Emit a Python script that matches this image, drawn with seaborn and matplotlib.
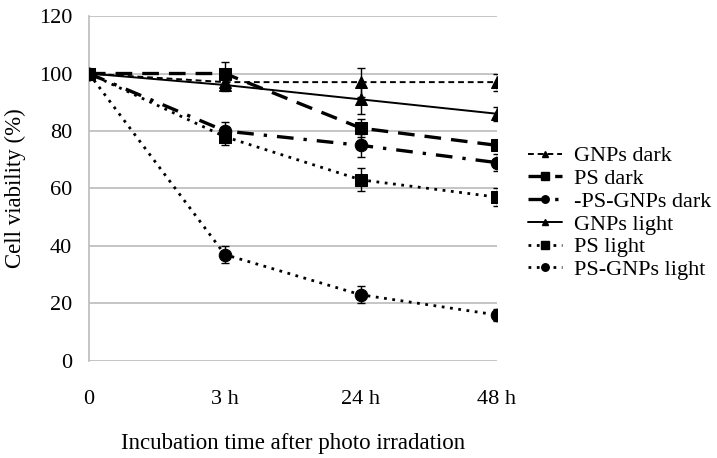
import matplotlib
matplotlib.use("Agg")
import matplotlib.pyplot as plt
import seaborn as sns
import pandas as pd
from matplotlib.lines import Line2D

sns.set_style("white")
plt.rcParams['font.family'] = ['Liberation Serif', 'DejaVu Serif']
plt.rcParams['text.color'] = 'black'
plt.rcParams['axes.labelcolor'] = 'black'
plt.rcParams['xtick.color'] = 'black'
plt.rcParams['ytick.color'] = 'black'

times = ["0", "3 h", "24 h", "48 h"]
series_names = ["GNPs dark", "PS dark", "-PS-GNPs dark", "GNPs light", "PS light", "PS-GNPs light"]
gnps_dark = [100, 97, 97, 97]
ps_dark = [100, 100, 81, 75]
psgnps_dark = [100, 80, 75, 69]
gnps_light = [100, 96, 91, 86]
ps_light = [100, 78, 63, 57]
psgnps_light = [100, 37, 23, 16]
values = [gnps_dark, ps_dark, psgnps_dark, gnps_light, ps_light, psgnps_light]

err_gnps_dark = [0, 1, 5, 3]
err_ps_dark = [0, 4, 3, 1]
err_psgnps_dark = [0, 3, 4, 3]
err_gnps_light = [0, 2, 5, 2.5]
err_ps_light = [0, 3, 4, 3]
err_psgnps_light = [0, 3, 3, 2]
errors = [err_gnps_dark, err_ps_dark, err_psgnps_dark, err_gnps_light, err_ps_light, err_psgnps_light]

styles = [
    dict(marker="^", ms=8, lw=1.4, dashes=(3, 2)),
    dict(marker="s", ms=9, lw=2.4, dashes=(5, 3)),
    dict(marker="o", ms=9, lw=2.4, dashes=(5, 3, 1, 3)),
    dict(marker="^", ms=8, lw=1.4, dashes=None),
    dict(marker="s", ms=9, lw=2.0, dashes=(1, 2)),
    dict(marker="o", ms=9, lw=2.0, dashes=(1, 2)),
]

fs = 16
fig = plt.figure(figsize=(7.17, 4.58), dpi=100)
ax = fig.add_axes([0.124, 0.212, 0.569, 0.753])

xpos = list(range(len(times)))
handles = []
for name, vals, errs, st in zip(series_names, values, errors, styles):
    df = pd.DataFrame({"x": xpos, "y": vals})
    sns.lineplot(data=df, x="x", y="y", ax=ax, color="black", marker=st["marker"],
                 markersize=st["ms"], linewidth=st["lw"], markeredgecolor="black", zorder=3)
    line = ax.lines[-1]
    if st["dashes"] is not None:
        line.set_dashes(st["dashes"])
    ax.errorbar(xpos, vals, yerr=errs, fmt="none", ecolor="black", elinewidth=1,
                capsize=3, capthick=1, zorder=2)
    h = Line2D([0], [0], color="black", lw=st["lw"], marker=st["marker"],
               markersize=st["ms"] * 0.6)
    if st["dashes"] is not None:
        h.set_dashes(st["dashes"])
    handles.append(h)

ax.set_xlim(0, 3)
ax.set_ylim(0, 120)
ax.set_yticks(range(0, 121, 20))
ax.set_xticks(xpos)
ax.set_xticklabels(times)
ax.tick_params(axis="x", length=0, pad=21, labelsize=fs, labelcolor="black")
ax.tick_params(axis="y", length=0, pad=12, labelsize=fs, labelcolor="black")
ax.yaxis.grid(True, color="#bbbbbb", lw=1.2)
ax.set_axisbelow(True)
for s in ["top", "right", "bottom"]:
    ax.spines[s].set_visible(False)
ax.spines["left"].set_color("#bbbbbb")
ax.spines["left"].set_linewidth(1.2)
ax.set_xlabel("Incubation time after photo irradation", fontsize=fs + 0.5, labelpad=17, color="black")
ax.set_ylabel("Cell viability (%)", fontsize=fs + 0.5, labelpad=9, color="black")

fig.legend(handles, series_names, loc="center left", bbox_to_anchor=(0.736, 0.535),
           frameon=False, fontsize=fs, handlelength=1.55, handletextpad=0.55,
           labelspacing=0.1, borderaxespad=0, borderpad=0, labelcolor="black")

fig.savefig("out.png", dpi=100)
